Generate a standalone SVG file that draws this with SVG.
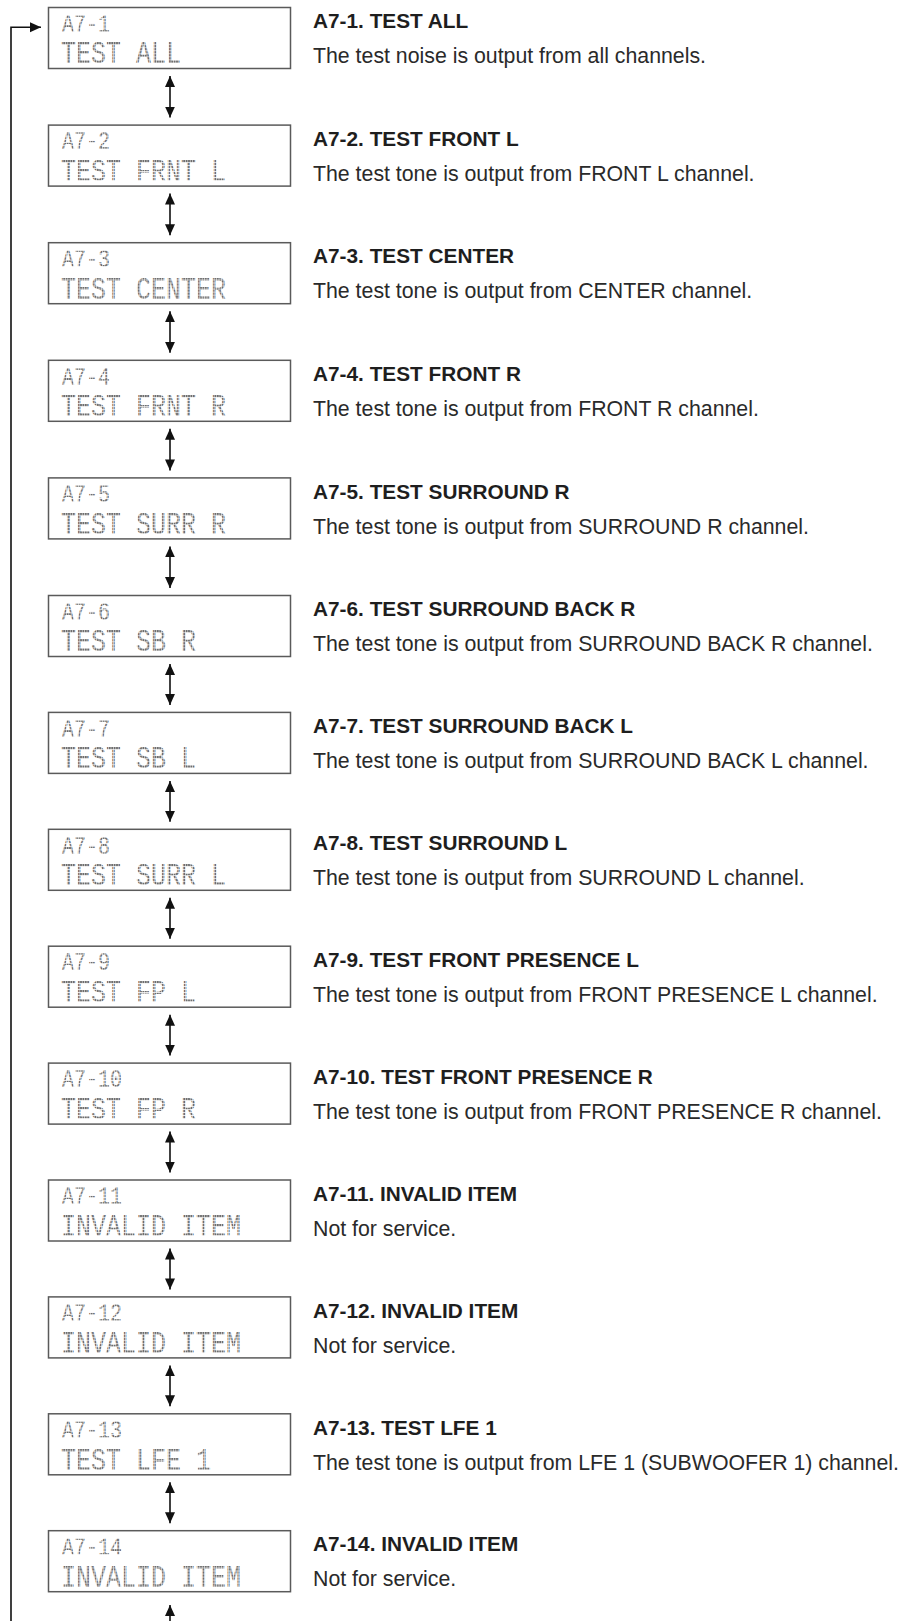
<svg xmlns="http://www.w3.org/2000/svg" width="899" height="1621" viewBox="0 0 899 1621">
<style>
.box{fill:#fff;stroke:#5a5a5a;stroke-width:1.5}
.lcd1{font-family:"Liberation Mono","DejaVu Sans Mono",monospace;font-size:20px;fill:url(#dots)}
.lcd2{font-family:"Liberation Mono","DejaVu Sans Mono",monospace;font-size:25px;fill:url(#dots)}
.ttl{font-family:"Liberation Sans",Arial,sans-serif;font-size:20.8px;font-weight:bold;fill:#1e1e1e}
.dsc{font-family:"Liberation Sans",Arial,sans-serif;font-size:21.3px;fill:#2a2a2a}
.con{fill:none;stroke:#111;stroke-width:1.6}
</style>
<defs>
<pattern id="dots" patternUnits="userSpaceOnUse" width="2.4" height="2.4"><rect width="1.9" height="1.9" fill="#6e6e6e"/></pattern>
<marker id="ah" markerUnits="userSpaceOnUse" markerWidth="12" markerHeight="11" refX="11" refY="5" orient="auto-start-reverse" viewBox="0 0 12 10"><path d="M0,0 L11,5 L0,10 z" fill="#111"/></marker>
</defs>
<rect width="899" height="1621" fill="#fff"/>
<g id="connectors">
<path class="con" d="M11,1621 V27.3 H41" marker-end="url(#ah)"/>
<path class="con" d="M170,76 V117.6" marker-start="url(#ah)" marker-end="url(#ah)"/>
<path class="con" d="M170,193.6 V235.2" marker-start="url(#ah)" marker-end="url(#ah)"/>
<path class="con" d="M170,311.2 V352.8" marker-start="url(#ah)" marker-end="url(#ah)"/>
<path class="con" d="M170,428.8 V470.4" marker-start="url(#ah)" marker-end="url(#ah)"/>
<path class="con" d="M170,546.4 V588.0" marker-start="url(#ah)" marker-end="url(#ah)"/>
<path class="con" d="M170,664.0 V704.9" marker-start="url(#ah)" marker-end="url(#ah)"/>
<path class="con" d="M170,780.9 V821.8" marker-start="url(#ah)" marker-end="url(#ah)"/>
<path class="con" d="M170,897.8 V938.7" marker-start="url(#ah)" marker-end="url(#ah)"/>
<path class="con" d="M170,1014.7 V1055.6" marker-start="url(#ah)" marker-end="url(#ah)"/>
<path class="con" d="M170,1131.6 V1172.5" marker-start="url(#ah)" marker-end="url(#ah)"/>
<path class="con" d="M170,1248.5 V1289.4" marker-start="url(#ah)" marker-end="url(#ah)"/>
<path class="con" d="M170,1365.4 V1406.3" marker-start="url(#ah)" marker-end="url(#ah)"/>
<path class="con" d="M170,1482.3 V1523.2" marker-start="url(#ah)" marker-end="url(#ah)"/>
<path class="con" d="M170,1621 V1605" marker-end="url(#ah)"/>
</g>
<g id="n1" transform="translate(0,7.5)">
<rect class="box" x="48.5" y="0" width="242" height="61"/>
<text class="lcd1" transform="translate(62,24.2) scale(1,1.33)">A7-1</text>
<text class="lcd2" transform="translate(61,55.8) scale(1,1.26)">TEST ALL</text>
<text class="ttl" x="313" y="20.8">A7-1. TEST ALL</text>
<text class="dsc" x="313" y="55.8">The test noise is output from all channels.</text>
</g>
<g id="n2" transform="translate(0,125.1)">
<rect class="box" x="48.5" y="0" width="242" height="61"/>
<text class="lcd1" transform="translate(62,24.2) scale(1,1.33)">A7-2</text>
<text class="lcd2" transform="translate(61,55.8) scale(1,1.26)">TEST FRNT L</text>
<text class="ttl" x="313" y="20.8">A7-2. TEST FRONT L</text>
<text class="dsc" x="313" y="55.8">The test tone is output from FRONT L channel.</text>
</g>
<g id="n3" transform="translate(0,242.7)">
<rect class="box" x="48.5" y="0" width="242" height="61"/>
<text class="lcd1" transform="translate(62,24.2) scale(1,1.33)">A7-3</text>
<text class="lcd2" transform="translate(61,55.8) scale(1,1.26)">TEST CENTER</text>
<text class="ttl" x="313" y="20.8">A7-3. TEST CENTER</text>
<text class="dsc" x="313" y="55.8">The test tone is output from CENTER channel.</text>
</g>
<g id="n4" transform="translate(0,360.3)">
<rect class="box" x="48.5" y="0" width="242" height="61"/>
<text class="lcd1" transform="translate(62,24.2) scale(1,1.33)">A7-4</text>
<text class="lcd2" transform="translate(61,55.8) scale(1,1.26)">TEST FRNT R</text>
<text class="ttl" x="313" y="20.8">A7-4. TEST FRONT R</text>
<text class="dsc" x="313" y="55.8">The test tone is output from FRONT R channel.</text>
</g>
<g id="n5" transform="translate(0,477.9)">
<rect class="box" x="48.5" y="0" width="242" height="61"/>
<text class="lcd1" transform="translate(62,24.2) scale(1,1.33)">A7-5</text>
<text class="lcd2" transform="translate(61,55.8) scale(1,1.26)">TEST SURR R</text>
<text class="ttl" x="313" y="20.8">A7-5. TEST SURROUND R</text>
<text class="dsc" x="313" y="55.8">The test tone is output from SURROUND R channel.</text>
</g>
<g id="n6" transform="translate(0,595.5)">
<rect class="box" x="48.5" y="0" width="242" height="61"/>
<text class="lcd1" transform="translate(62,24.2) scale(1,1.33)">A7-6</text>
<text class="lcd2" transform="translate(61,55.8) scale(1,1.26)">TEST SB R</text>
<text class="ttl" x="313" y="20.8">A7-6. TEST SURROUND BACK R</text>
<text class="dsc" x="313" y="55.8">The test tone is output from SURROUND BACK R channel.</text>
</g>
<g id="n7" transform="translate(0,712.4)">
<rect class="box" x="48.5" y="0" width="242" height="61"/>
<text class="lcd1" transform="translate(62,24.2) scale(1,1.33)">A7-7</text>
<text class="lcd2" transform="translate(61,55.8) scale(1,1.26)">TEST SB L</text>
<text class="ttl" x="313" y="20.8">A7-7. TEST SURROUND BACK L</text>
<text class="dsc" x="313" y="55.8">The test tone is output from SURROUND BACK L channel.</text>
</g>
<g id="n8" transform="translate(0,829.3)">
<rect class="box" x="48.5" y="0" width="242" height="61"/>
<text class="lcd1" transform="translate(62,24.2) scale(1,1.33)">A7-8</text>
<text class="lcd2" transform="translate(61,55.8) scale(1,1.26)">TEST SURR L</text>
<text class="ttl" x="313" y="20.8">A7-8. TEST SURROUND L</text>
<text class="dsc" x="313" y="55.8">The test tone is output from SURROUND L channel.</text>
</g>
<g id="n9" transform="translate(0,946.2)">
<rect class="box" x="48.5" y="0" width="242" height="61"/>
<text class="lcd1" transform="translate(62,24.2) scale(1,1.33)">A7-9</text>
<text class="lcd2" transform="translate(61,55.8) scale(1,1.26)">TEST FP L</text>
<text class="ttl" x="313" y="20.8">A7-9. TEST FRONT PRESENCE L</text>
<text class="dsc" x="313" y="55.8">The test tone is output from FRONT PRESENCE L channel.</text>
</g>
<g id="n10" transform="translate(0,1063.1)">
<rect class="box" x="48.5" y="0" width="242" height="61"/>
<text class="lcd1" transform="translate(62,24.2) scale(1,1.33)">A7-10</text>
<text class="lcd2" transform="translate(61,55.8) scale(1,1.26)">TEST FP R</text>
<text class="ttl" x="313" y="20.8">A7-10. TEST FRONT PRESENCE R</text>
<text class="dsc" x="313" y="55.8">The test tone is output from FRONT PRESENCE R channel.</text>
</g>
<g id="n11" transform="translate(0,1180)">
<rect class="box" x="48.5" y="0" width="242" height="61"/>
<text class="lcd1" transform="translate(62,24.2) scale(1,1.33)">A7-11</text>
<text class="lcd2" transform="translate(61,55.8) scale(1,1.26)">INVALID ITEM</text>
<text class="ttl" x="313" y="20.8">A7-11. INVALID ITEM</text>
<text class="dsc" x="313" y="55.8">Not for service.</text>
</g>
<g id="n12" transform="translate(0,1296.9)">
<rect class="box" x="48.5" y="0" width="242" height="61"/>
<text class="lcd1" transform="translate(62,24.2) scale(1,1.33)">A7-12</text>
<text class="lcd2" transform="translate(61,55.8) scale(1,1.26)">INVALID ITEM</text>
<text class="ttl" x="313" y="20.8">A7-12. INVALID ITEM</text>
<text class="dsc" x="313" y="55.8">Not for service.</text>
</g>
<g id="n13" transform="translate(0,1413.8)">
<rect class="box" x="48.5" y="0" width="242" height="61"/>
<text class="lcd1" transform="translate(62,24.2) scale(1,1.33)">A7-13</text>
<text class="lcd2" transform="translate(61,55.8) scale(1,1.26)">TEST LFE 1</text>
<text class="ttl" x="313" y="20.8">A7-13. TEST LFE 1</text>
<text class="dsc" x="313" y="55.8">The test tone is output from LFE 1 (SUBWOOFER 1) channel.</text>
</g>
<g id="n14" transform="translate(0,1530.7)">
<rect class="box" x="48.5" y="0" width="242" height="61"/>
<text class="lcd1" transform="translate(62,24.2) scale(1,1.33)">A7-14</text>
<text class="lcd2" transform="translate(61,55.8) scale(1,1.26)">INVALID ITEM</text>
<text class="ttl" x="313" y="20.8">A7-14. INVALID ITEM</text>
<text class="dsc" x="313" y="55.8">Not for service.</text>
</g>
</svg>
